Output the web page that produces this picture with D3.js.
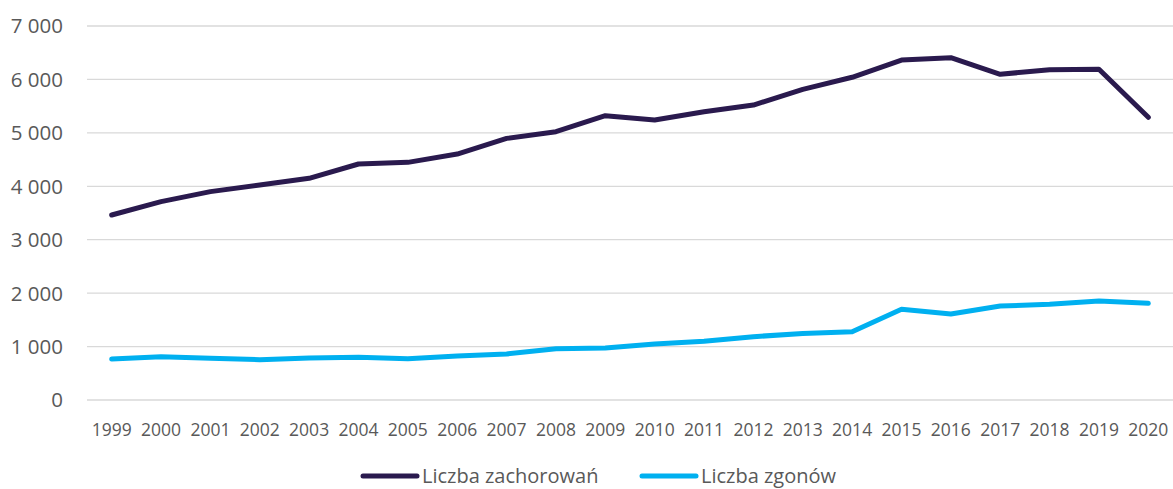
<!DOCTYPE html>
<html lang="pl">
<head>
<meta charset="UTF-8">
<title>Liczba zachorowań i zgonów</title>
<script src="https://cdn.jsdelivr.net/npm/d3@7"></script>
<style>
  body { margin: 0; background: #fff; }
  text { font-family: "Open Sans", sans-serif; fill: #595959; }
</style>
</head>
<body>
<div id="container"></div>
<script>
// years on the x axis
const years = ["1999","2000","2001","2002","2003","2004","2005","2006","2007","2008","2009",
  "2010","2011","2012","2013","2014","2015","2016","2017","2018","2019","2020"];
// values
const zachorowania = [3463, 3712, 3900, 4024, 4149, 4417, 4448, 4604, 4897, 5022, 5321,
  5241, 5396, 5521, 5815, 6040, 6363, 6407, 6096, 6183, 6189, 5291];
const zgony = [767, 811, 780, 755, 786, 799, 773, 823, 861, 961, 973,
  1048, 1098, 1185, 1245, 1279, 1697, 1610, 1759, 1791, 1853, 1810];
const yTicks = [0, 1000, 2000, 3000, 4000, 5000, 6000, 7000];
const seriesNames = ["Liczba zachorowań", "Liczba zgonów"];
const seriesColors = ["#2A1A4E", "#00B0F0"];

const w = 1173, h = 489;
const m = { left: 87, right: 1173, top: 26, bottom: 400 };

const svg = d3.select("#container").append("svg").attr("width", w).attr("height", h);

const x = d3.scaleBand(years, [m.left, m.right]);
const y = d3.scaleLinear([0, 7000], [m.bottom, m.top]);

// gridlines
svg.append("g").selectAll("line").data(yTicks).join("line")
  .attr("x1", m.left).attr("x2", m.right)
  .attr("y1", d => y(d)).attr("y2", d => y(d))
  .attr("stroke", "#d9d9d9").attr("stroke-width", 1.3);

// y labels, space as thousands separator
const fmt = d => d3.format(",")(d).replace(/,/g, " ");
svg.append("g").selectAll("text").data(yTicks).join("text")
  .attr("x", 63).attr("y", d => y(d)).attr("dy", "0.36em")
  .attr("text-anchor", "end").style("font-size", "20.5px")
  .text(fmt);

// x labels
svg.append("g").selectAll("text").data(years).join("text")
  .attr("x", d => x(d) + x.bandwidth() / 2).attr("y", 436)
  .attr("text-anchor", "middle").style("font-size", "17.5px")
  .text(d => d);

// lines
const line = d3.line().x((d, i) => x(years[i]) + x.bandwidth() / 2).y(d => y(d));
[zachorowania, zgony].forEach((s, i) => {
  svg.append("path").datum(s).attr("d", line)
    .attr("fill", "none").attr("stroke", seriesColors[i])
    .attr("stroke-width", 5).attr("stroke-linejoin", "round").attr("stroke-linecap", "round");
});

// legend
const legendX = [363, 642];
const lg = svg.append("g").selectAll("g").data(seriesNames).join("g")
  .attr("transform", (d, i) => `translate(${legendX[i]},476)`);
lg.append("line").attr("x1", 0).attr("x2", 54)
  .attr("stroke", (d, i) => seriesColors[i]).attr("stroke-width", 5).attr("stroke-linecap", "round");
lg.append("text").attr("x", 59).attr("y", 7).style("font-size", "20px").text(d => d);
</script>
</body>
</html>
